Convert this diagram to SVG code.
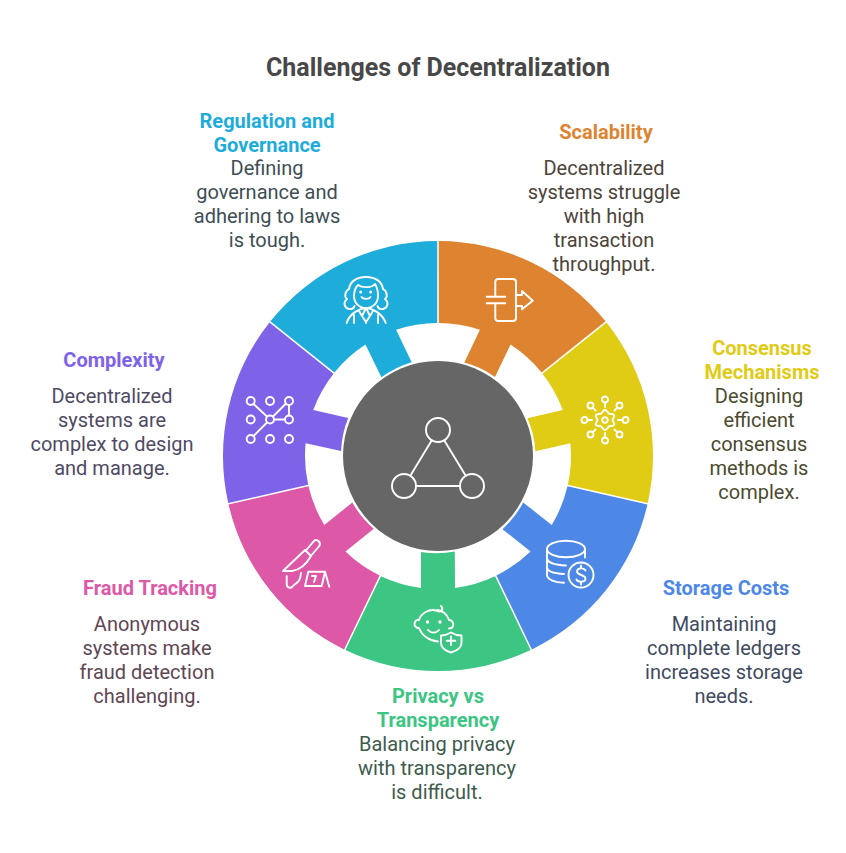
<svg xmlns="http://www.w3.org/2000/svg" width="846" height="853" viewBox="0 0 846 853">
<style>
text{font-family:Roboto,"Liberation Sans",sans-serif;font-size:20px;text-anchor:middle}
.h{font-weight:700}
.title{font-size:25px;font-weight:700;fill:#484848}
.i{fill:none;stroke:#fff;stroke-width:1.900;stroke-linecap:round;stroke-linejoin:round}
</style>
<defs>
<path id="wedge" d="M0.75,-215 A215 215 0 0 1 167.62,-134.64 L103.51,-83.52 A133 133 0 0 0 72.55,-111.47 L56.97,-79.12 A97 97 0 0 0 26.33,-93.38 L41.91,-126.22 A133 133 0 0 0 0.75,-133 Z"/>
</defs>
<rect width="846" height="853" fill="#fff"/>
<text class="title" x="438" y="76">Challenges of Decentralization</text>

<g id="scalability">
<use href="#wedge" transform="translate(438 456)" fill="#de8431"/>
<path class="i" d="M495.300,296.700 V282 a3,3 0 0 1 3,-3 H513 a3,3 0 0 1 3,3 V318 a3,3 0 0 1 -3,3 H498.300 a3,3 0 0 1 -3,-3 V303.300 M486.700,296.700 H505.300 M486.700,303.300 H505.300 M516,295 H522 V291 L532.700,300.700 L522,309.300 V306 H516"/>
<text class="h" fill="#de8431" x="606" y="139">Scalability</text>
<text fill="#4d4339"><tspan x="604" y="175">Decentralized</tspan><tspan x="604" y="199">systems struggle</tspan><tspan x="604" y="223">with high</tspan><tspan x="604" y="247">transaction</tspan><tspan x="604" y="271">throughput.</tspan></text>
</g>

<g id="consensus">
<use href="#wedge" transform="translate(438 456) rotate(51.4286)" fill="#e0cb15"/>
<g class="i" transform="translate(605 420)">
<path d="M0,-10 C2,-10 2.500,-7.500 3.750,-6.500 C5,-5.500 8,-6.500 9,-5 C10,-3 7.500,-1.500 7.500,0 C7.500,1.500 10,3 9,5 C8,6.500 5,5.500 3.750,6.500 C2.500,7.500 2,10 0,10 C-2,10 -2.500,7.500 -3.750,6.500 C-5,5.500 -8,6.500 -9,5 C-10,3 -7.500,1.500 -7.500,0 C-7.500,-1.500 -10,-3 -9,-5 C-8,-6.500 -5,-5.500 -3.750,-6.500 C-2.500,-7.500 -2,-10 0,-10 Z"/>
<circle r="2.800"/>
<path d="M0,-13V-17.500M0,13V17.500M13,0H17.500M-13,0H-17.500M9.500,-9.500L12.300,-12.300M-9.500,-9.500L-12.300,-12.300M9.500,9.500L12.300,12.300M-9.500,9.500L-12.300,12.300"/>
<circle cy="-20.500" r="3"/><circle cy="20.500" r="3"/><circle cx="20.500" r="3"/><circle cx="-20.500" r="3"/>
<circle cx="14.500" cy="-14.500" r="3"/><circle cx="-14.500" cy="-14.500" r="3"/><circle cx="14.500" cy="14.500" r="3"/><circle cx="-14.500" cy="14.500" r="3"/>
</g>
<text class="h" fill="#e0cb15"><tspan x="762" y="355">Consensus</tspan><tspan x="762" y="379">Mechanisms</tspan></text>
<text fill="#4b4a2e"><tspan x="759" y="403">Designing</tspan><tspan x="759" y="427">efficient</tspan><tspan x="759" y="451">consensus</tspan><tspan x="759" y="475">methods is</tspan><tspan x="759" y="499">complex.</tspan></text>
</g>

<g id="storage">
<use href="#wedge" transform="translate(438 456) rotate(102.8571)" fill="#4e88e7"/>
<g class="i">
<ellipse cx="566" cy="549" rx="19" ry="8.300"/>
<path d="M547,549 V575 C547,579 554,582.500 564,582.700 M585,549 V557.500 M547,558 C547,562 554,565 566,565.500 M547,567 C547,571 554,573.500 564,574"/>
<circle cx="581" cy="575" r="12.500"/>
<path d="M585.500,570.500 C584,567.500 577,567.500 577,571.500 C577,575.500 585.500,574.500 585.500,578.500 C585.500,582.500 578,582.500 576.500,579.500 M581,565.500 V568 M581,582 V584.500"/>
</g>
<text class="h" fill="#4e88e7" x="726" y="595">Storage Costs</text>
<text fill="#3f4a5f"><tspan x="724" y="631">Maintaining</tspan><tspan x="724" y="655">complete ledgers</tspan><tspan x="724" y="679">increases storage</tspan><tspan x="724" y="703">needs.</tspan></text>
</g>

<g id="privacy">
<use href="#wedge" transform="translate(438 456) rotate(154.2857)" fill="#3cc583"/>
<g class="i">
<path d="M441,606 C444,609 441,613 437,611 C430,608 421,613 419,620 C415,619 413,625 416,627 C417,628 418,628 419,628 C422,636 430,641 438,641.500 M437,610 C442,610 447,614 449,620 C452,620 454,623 453,626 C452.500,628 451,628.500 449,628.500"/>
<path d="M428,630 C431,633.500 436,633.500 439,630"/>
<path d="M451,632.500 C447,635 444,635.500 441,635.500 V643 C441,648 446,651 451,652.500 C456,651 461.500,648 461.500,643 V635.500 C458,635.500 455,635 451,632.500 Z M451,636.500 V645 M446.700,640.700 H455.300"/>
</g>
<circle cx="427.500" cy="622" r="1.700" fill="#fff"/><circle cx="440" cy="622" r="1.700" fill="#fff"/>
<text class="h" fill="#3cc583"><tspan x="438" y="703">Privacy vs</tspan><tspan x="438" y="727">Transparency</tspan></text>
<text fill="#3e5b4d"><tspan x="437" y="751">Balancing privacy</tspan><tspan x="437" y="775">with transparency</tspan><tspan x="437" y="799">is difficult.</tspan></text>
</g>

<g id="fraud">
<use href="#wedge" transform="translate(438 456) rotate(205.7143)" fill="#dd58a7"/>
<g class="i">
<path d="M283,571 L305,550 L311,556 C307,563 300,570 292,571 Z M305.500,551 L314.300,540.700 C317,538.500 321.500,542.500 319.300,546 L310,557"/>
<path d="M286.700,576 V584 C286.700,588 291,589 293,586 C296,582 300,584 301,573"/>
<path d="M308.300,571.700 H325 L321.700,586 H305 Z M325,571.700 L329.300,586.700 M312,576 H316 L314,582"/>
</g>
<text class="h" fill="#dd58a7" x="150" y="595">Fraud Tracking</text>
<text fill="#5f4654"><tspan x="147" y="631">Anonymous</tspan><tspan x="147" y="655">systems make</tspan><tspan x="147" y="679">fraud detection</tspan><tspan x="147" y="703">challenging.</tspan></text>
</g>

<g id="complexity">
<use href="#wedge" transform="translate(438 456) rotate(257.1429)" fill="#7e62e8"/>
<g class="i">
<circle cx="250.700" cy="401" r="4"/><circle cx="270" cy="401" r="4"/><circle cx="289" cy="401" r="4"/>
<circle cx="250.700" cy="419.500" r="4"/><circle cx="270" cy="419.500" r="4"/><circle cx="289" cy="419.500" r="4"/>
<circle cx="250.700" cy="439" r="4"/><circle cx="270" cy="439" r="4"/><circle cx="289" cy="439" r="4"/>
<path d="M253.500,404 L267,416.500 M286,403.500 L273,416.500 M274,419.500 H285 M289,405 V415.500 M267,422.500 L253.500,436"/>
</g>
<text class="h" fill="#7e62e8" x="114" y="367">Complexity</text>
<text fill="#4f4a64"><tspan x="112" y="403">Decentralized</tspan><tspan x="112" y="427">systems are</tspan><tspan x="112" y="451">complex to design</tspan><tspan x="112" y="475">and manage.</tspan></text>
</g>

<g id="regulation">
<use href="#wedge" transform="translate(438 456) rotate(308.5714)" fill="#1eacdb"/>
<g class="i">
<path d="M366,277 C376,277 382,282 383,289 C387,291 388,297 385,299 C389,302 388,308 383,309 C380,309.500 378,308 377.500,306 M366,277 C356,277 350,282 349,289 C345,291 344,297 347,299 C343,302 344,308 349,309 C352,309.500 354,308 354.500,306"/>
<path d="M354,296 C354,290 356,287 358,285 C362,288 372,288 375,284 C377,287 378,291 378,296 C378,303 373,308 366,308 C359,308 354,303 354,296 Z"/>
<path d="M361.500,297 C363,299.500 369,299.500 370.500,297"/>
<path d="M346.700,323 C349,315 357,309 366,308 C375,309 383,315 385.700,323 M354,315 V323 M378,315 V323 M366,308 L362,316 L366,322 L370,316 Z M359,311 L362,316 M373,311 L370,316 M366,322 V323"/>
</g>
<circle cx="360.700" cy="292" r="1.500" fill="#fff"/><circle cx="370.700" cy="292" r="1.500" fill="#fff"/>
<text class="h" fill="#1eacdb"><tspan x="267" y="128">Regulation and</tspan><tspan x="267" y="152">Governance</tspan></text>
<text fill="#3e4e55"><tspan x="267" y="175">Defining</tspan><tspan x="267" y="199">governance and</tspan><tspan x="267" y="223">adhering to laws</tspan><tspan x="267" y="247">is tough.</tspan></text>
</g>

<g id="center">
<circle cx="438" cy="456" r="95" fill="#666"/>
<g class="i">
<circle cx="438" cy="430" r="12"/><circle cx="404" cy="486" r="12"/><circle cx="472" cy="486" r="12"/>
<path d="M431.800,440.300 L410.300,475.700 M444.200,440.300 L465.700,475.700 M416,486 H460"/>
</g>
</g>
</svg>
